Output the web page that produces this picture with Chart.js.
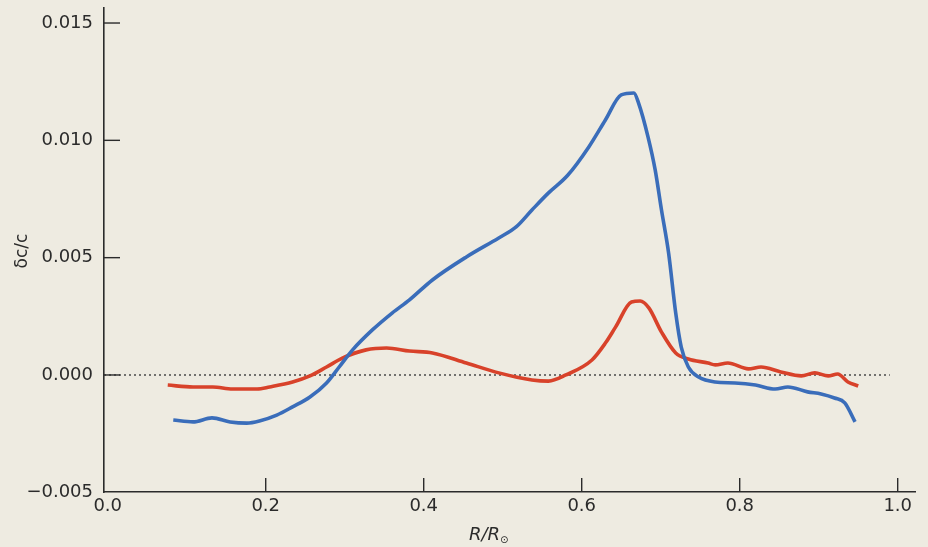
<!DOCTYPE html>
<html>
<head>
<meta charset="utf-8">
<script src="https://cdn.jsdelivr.net/npm/chart.js@4/dist/chart.umd.min.js"></script>
<style>
  html, body { margin: 0; padding: 0; background: #eeebe1; }
  canvas { display: block; }
</style>
</head>
<body>
<canvas id="c" width="928" height="547"></canvas>
<script>
// ---- data ----
const xTicks = [0.0, 0.2, 0.4, 0.6, 0.8, 1.0];
const yTicks = [-0.005, 0.000, 0.005, 0.010, 0.015];

const blueR  = [0.083, 0.108, 0.132, 0.155, 0.176, 0.192, 0.214, 0.234, 0.256, 0.277, 0.293, 0.310, 0.335, 0.360, 0.382, 0.411, 0.454, 0.495, 0.517, 0.537, 0.558, 0.582, 0.609, 0.630, 0.650, 0.666, 0.672, 0.684, 0.693, 0.701, 0.710, 0.719, 0.726, 0.735, 0.748, 0.769, 0.794, 0.820, 0.845, 0.861, 0.886, 0.903, 0.920, 0.933, 0.946];
const blueDc = [-0.00192, -0.00200, -0.00183, -0.00200, -0.00205, -0.00196, -0.00171, -0.00136, -0.00094, -0.00034, 0.00034, 0.00107, 0.00192, 0.00264, 0.00320, 0.00405, 0.00503, 0.00584, 0.00631, 0.00703, 0.00776, 0.00850, 0.00972, 0.01087, 0.01194, 0.01202, 0.01159, 0.01014, 0.00874, 0.00703, 0.00520, 0.00264, 0.00119, 0.00034, -0.00009, -0.00030, -0.00034, -0.00043, -0.00060, -0.00051, -0.00072, -0.00081, -0.00098, -0.00119, -0.00200];

const redR  = [0.076, 0.108, 0.133, 0.158, 0.189, 0.205, 0.234, 0.256, 0.277, 0.297, 0.327, 0.353, 0.382, 0.411, 0.454, 0.495, 0.537, 0.558, 0.580, 0.613, 0.630, 0.643, 0.663, 0.674, 0.685, 0.701, 0.719, 0.735, 0.760, 0.769, 0.785, 0.811, 0.827, 0.852, 0.878, 0.895, 0.912, 0.924, 0.937, 0.950];
const redDc = [-0.00043, -0.00051, -0.00051, -0.00060, -0.00060, -0.00051, -0.00030, -0.00004, 0.00034, 0.00072, 0.00107, 0.00115, 0.00102, 0.00094, 0.00051, 0.00009, -0.00021, -0.00026, 0.00000, 0.00064, 0.00136, 0.00205, 0.00311, 0.00315, 0.00286, 0.00183, 0.00094, 0.00068, 0.00051, 0.00043, 0.00051, 0.00026, 0.00034, 0.00013, -0.00004, 0.00009, -0.00004, 0.00004, -0.00030, -0.00047];

const xTitle = "R/R";
const xTitleSub = "\u2299";
const yTitle = "\u03B4c/c";

// ---- build ----
const pts = (xs, ys) => xs.map((x, i) => ({ x: x, y: ys[i] }));
const INK = '#2b2b2b';
const FONT = '"DejaVu Sans", sans-serif';

const decor = {
  id: 'decor',
  beforeDraw(chart) {
    const ctx = chart.ctx;
    ctx.save();
    ctx.fillStyle = '#eeebe1';
    ctx.fillRect(0, 0, chart.width, chart.height);
    ctx.restore();
  },
  beforeDatasetsDraw(chart) {
    const ctx = chart.ctx;
    const xs = chart.scales.x, ys = chart.scales.y;
    // dotted zero line
    ctx.save();
    ctx.strokeStyle = '#4a4a4a';
    ctx.lineWidth = 1.6;
    ctx.setLineDash([2, 3]);
    ctx.beginPath();
    const y0 = ys.getPixelForValue(0);
    ctx.moveTo(xs.left, y0);
    ctx.lineTo(xs.getPixelForValue(0.99), y0);
    ctx.stroke();
    ctx.restore();
  },
  afterDraw(chart) {
    const ctx = chart.ctx;
    const xs = chart.scales.x, ys = chart.scales.y;
    ctx.save();
    ctx.strokeStyle = INK;
    ctx.lineWidth = 1.4;
    // inward ticks on y
    yTicks.forEach(v => {
      if (v === yTicks[0]) return;
      const p = ys.getPixelForValue(v);
      ctx.beginPath();
      ctx.moveTo(xs.left, p);
      ctx.lineTo(xs.left + 16, p);
      ctx.stroke();
    });
    // inward ticks on x
    xTicks.forEach(v => {
      if (v === 0) return;
      const p = xs.getPixelForValue(v);
      ctx.beginPath();
      ctx.moveTo(p, ys.bottom);
      ctx.lineTo(p, ys.bottom - 14);
      ctx.stroke();
    });
    // x title
    ctx.fillStyle = INK;
    ctx.textBaseline = 'alphabetic';
    ctx.textAlign = 'left';
    ctx.font = 'italic 18px ' + FONT;
    ctx.fillText(xTitle, 469, 540);
    const w = ctx.measureText(xTitle).width;
    ctx.font = '10px ' + FONT;
    ctx.fillText(xTitleSub, 469 + w, 543);
    // y title
    ctx.translate(27, 251);
    ctx.rotate(-Math.PI / 2);
    ctx.textAlign = 'center';
    ctx.font = '17px ' + FONT;
    ctx.fillText(yTitle, 0, 0);
    ctx.restore();
  }
};

new Chart(document.getElementById('c'), {
  type: 'line',
  data: {
    datasets: [
      { label: 'blue', data: pts(blueR, blueDc), borderColor: '#3a6dba', borderWidth: 3.6,
        pointRadius: 0, cubicInterpolationMode: 'monotone', fill: false },
      { label: 'red', data: pts(redR, redDc), borderColor: '#d8422a', borderWidth: 3.6,
        pointRadius: 0, cubicInterpolationMode: 'monotone', fill: false }
    ]
  },
  options: {
    responsive: false,
    animation: false,
    events: [],
    layout: { padding: { left: 0, right: 13, top: 8, bottom: 0 } },
    plugins: { legend: { display: false }, tooltip: { enabled: false } },
    scales: {
      x: {
        type: 'linear',
        min: -0.0047, max: 1.0219,
        afterBuildTicks: s => { s.ticks = xTicks.map(v => ({ value: v })); },
        afterFit: s => { s.height = 55; s.paddingLeft = 0; s.paddingRight = 0; },
        grid: { display: false, drawTicks: false },
        border: { display: true, color: INK, width: 1.6 },
        ticks: { padding: 4, color: INK, font: { family: FONT, size: 18 },
                 callback: v => v.toFixed(1), maxRotation: 0, autoSkip: false }
      },
      y: {
        type: 'linear',
        min: -0.004987, max: 0.01564,
        afterBuildTicks: s => { s.ticks = yTicks.map(v => ({ value: v })); },
        afterFit: s => { s.width = 104; s.paddingTop = 0; s.paddingBottom = 0; },
        grid: { display: false, drawTicks: false },
        border: { display: true, color: INK, width: 1.6 },
        ticks: { padding: 11, color: INK, font: { family: FONT, size: 18 },
                 callback: v => (v < 0 ? '\u2212' : '') + Math.abs(v).toFixed(3), autoSkip: false }
      }
    }
  },
  plugins: [decor]
});
</script>
</body>
</html>
